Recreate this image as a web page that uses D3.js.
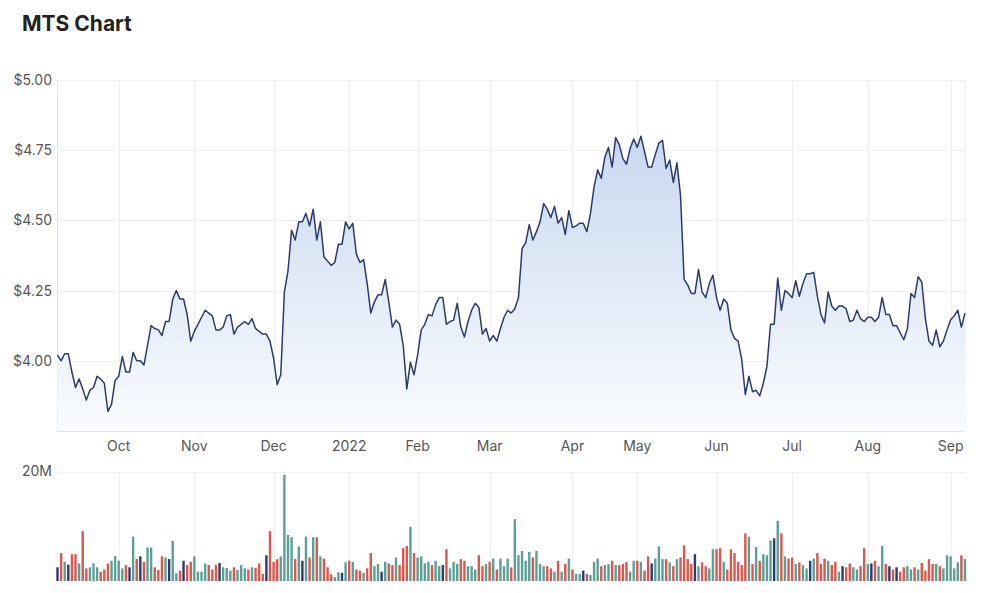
<!DOCTYPE html>
<html>
<head>
<meta charset="utf-8">
<script src="https://cdn.jsdelivr.net/npm/d3@7"></script>
<style>
  body { margin: 0; background: #fff; }
  text { font-family: Inter, "Open Sans", sans-serif; }
</style>
</head>
<body>
<div id="chart"></div>
<script>
// trading calendar (ASX) for the year shown
var firstDay = "2021-09-08";
var lastDay = "2022-09-07";
var holidays = ["2021-12-27", "2021-12-28", "2022-01-03", "2022-01-26",
                "2022-04-15", "2022-04-18", "2022-04-25", "2022-06-13"];

// closing price, $
var prices = [
  4.02, 4.00, 4.025, 4.025, 3.96, 3.905, 3.935, 3.90, 3.86, 3.895,
  3.905, 3.945, 3.935, 3.92, 3.82, 3.845, 3.93, 3.945, 4.015, 3.96,
  3.96, 4.03, 4.00, 4.00, 3.985, 4.055, 4.125, 4.115, 4.11, 4.09,
  4.14, 4.14, 4.22, 4.25, 4.22, 4.22, 4.165, 4.07, 4.105, 4.13,
  4.155, 4.18, 4.17, 4.16, 4.11, 4.11, 4.12, 4.16, 4.165, 4.095,
  4.12, 4.13, 4.14, 4.13, 4.15, 4.115, 4.105, 4.095, 4.095, 4.07,
  4.01, 3.915, 3.95, 4.245, 4.32, 4.465, 4.43, 4.495, 4.495, 4.525,
  4.48, 4.54, 4.43, 4.495, 4.37, 4.355, 4.34, 4.35, 4.415, 4.415,
  4.495, 4.47, 4.49, 4.38, 4.35, 4.36, 4.275, 4.17, 4.21, 4.235,
  4.235, 4.29, 4.21, 4.12, 4.145, 4.13, 4.055, 3.90, 3.995, 3.95,
  4.02, 4.11, 4.13, 4.165, 4.16, 4.20, 4.225, 4.225, 4.13, 4.14,
  4.145, 4.205, 4.12, 4.085, 4.14, 4.18, 4.205, 4.19, 4.095, 4.115,
  4.07, 4.09, 4.07, 4.115, 4.155, 4.18, 4.17, 4.185, 4.225, 4.40,
  4.42, 4.485, 4.43, 4.46, 4.495, 4.56, 4.54, 4.51, 4.55, 4.49,
  4.51, 4.45, 4.535, 4.475, 4.48, 4.49, 4.49, 4.46, 4.525, 4.62,
  4.68, 4.65, 4.725, 4.76, 4.69, 4.795, 4.77, 4.72, 4.70, 4.755,
  4.79, 4.76, 4.80, 4.745, 4.69, 4.69, 4.735, 4.775, 4.785, 4.685,
  4.715, 4.635, 4.705, 4.59, 4.29, 4.27, 4.24, 4.24, 4.325, 4.245,
  4.225, 4.275, 4.305, 4.225, 4.18, 4.22, 4.205, 4.11, 4.08, 4.07,
  4.005, 3.88, 3.945, 3.89, 3.895, 3.875, 3.92, 3.98, 4.13, 4.13,
  4.295, 4.18, 4.25, 4.24, 4.225, 4.285, 4.23, 4.275, 4.31, 4.31,
  4.315, 4.23, 4.165, 4.135, 4.245, 4.195, 4.18, 4.195, 4.195, 4.185,
  4.14, 4.145, 4.18, 4.15, 4.14, 4.155, 4.155, 4.14, 4.155, 4.225,
  4.165, 4.165, 4.125, 4.125, 4.10, 4.075, 4.115, 4.24, 4.225, 4.30,
  4.28, 4.15, 4.07, 4.055, 4.11, 4.05, 4.07, 4.11, 4.145, 4.16,
  4.18, 4.12, 4.17
];

// daily volume, millions of shares
var volumes = [
  2.5, 5.1, 3.5, 3.0, 4.9, 4.9, 3.2, 9.1, 2.3, 2.5,
  3.2, 2.5, 1.7, 2.1, 3.2, 3.7, 4.6, 3.7, 2.3, 2.9,
  2.5, 8.1, 4.0, 4.5, 3.5, 6.1, 6.1, 2.5, 2.0, 4.5,
  4.3, 4.0, 7.3, 1.4, 1.9, 3.7, 2.9, 3.5, 4.5, 1.7,
  1.7, 3.2, 2.9, 2.1, 3.0, 3.3, 2.5, 2.4, 1.9, 2.5,
  2.0, 2.9, 2.3, 2.1, 2.5, 2.4, 3.2, 1.3, 4.7, 9.1,
  3.5, 4.0, 4.5, 19.4, 8.4, 8.0, 4.0, 6.3, 3.7, 8.1,
  4.3, 8.0, 8.0, 4.5, 4.1, 2.5, 1.2, 0.7, 1.6, 1.5,
  3.4, 3.7, 3.5, 2.1, 1.9, 1.5, 2.3, 5.1, 2.7, 3.1,
  1.7, 3.5, 3.2, 2.9, 4.3, 2.9, 6.0, 6.4, 9.9, 5.1,
  4.3, 4.5, 3.2, 3.5, 2.9, 3.7, 2.7, 2.9, 5.8, 2.3,
  3.5, 3.1, 4.0, 3.7, 2.7, 2.7, 2.1, 4.7, 2.7, 3.1,
  3.5, 4.1, 2.1, 4.1, 2.7, 4.1, 2.5, 11.3, 4.7, 5.5,
  3.7, 5.3, 4.3, 5.5, 3.1, 2.7, 2.7, 2.3, 1.7, 3.7,
  1.7, 3.1, 4.1, 2.1, 1.3, 1.3, 1.9, 1.3, 1.1, 3.5,
  4.1, 2.7, 2.9, 3.1, 3.7, 2.9, 2.9, 3.1, 3.5, 1.7,
  3.7, 3.7, 3.5, 1.9, 4.5, 3.2, 4.1, 6.3, 4.0, 4.0,
  3.4, 2.7, 4.0, 4.3, 6.5, 4.0, 3.1, 4.9, 2.7, 3.4,
  2.7, 2.3, 5.8, 5.8, 6.0, 3.5, 2.1, 5.8, 5.1, 3.5,
  2.9, 8.7, 8.1, 3.1, 6.2, 3.7, 4.9, 4.7, 7.4, 7.8,
  11.0, 8.7, 4.5, 4.1, 4.3, 3.1, 3.4, 2.9, 2.3, 3.7,
  4.1, 5.1, 3.1, 4.1, 3.7, 2.9, 3.5, 1.7, 2.7, 2.5,
  3.2, 2.5, 2.1, 2.7, 6.0, 3.1, 3.2, 3.7, 2.7, 6.4,
  3.1, 2.7, 2.1, 2.5, 1.7, 2.5, 2.7, 2.1, 2.5, 2.1,
  3.3, 1.9, 4.0, 3.1, 3.1, 2.7, 2.3, 4.7, 4.5, 2.3,
  3.4, 4.7, 4.0
];

var priceTicks = [3.75, 4.00, 4.25, 4.50, 4.75, 5.00];
var volumeTicks = [20];

var width = 1000, height = 593;
var left = 57.5, right = 965;

var parseDay = d3.timeParse("%Y-%m-%d");
var fmtDay = d3.timeFormat("%Y-%m-%d");
var days = d3.timeDay.range(parseDay(firstDay), d3.timeDay.offset(parseDay(lastDay), 1))
  .filter(function(d) {
    return d.getDay() !== 0 && d.getDay() !== 6 && holidays.indexOf(fmtDay(d)) < 0;
  });

// first trading day of each month gets a grid line
var monthStarts = [];
days.forEach(function(d, i) {
  if (i > 0 && d.getMonth() !== days[i - 1].getMonth()) monthStarts.push(i);
});

var x = d3.scaleLinear().domain([0, prices.length - 1]).range([left, right]);
var y = d3.scaleLinear().domain([3.75, 5.00]).range([431, 80]);
var yv = d3.scaleLinear().domain([0, 20]).range([581, 471.5]);

var svg = d3.select("#chart")
  .append("svg")
  .attr("width", width)
  .attr("height", height);

svg.append("text")
  .attr("x", 22)
  .attr("y", 31)
  .attr("font-size", 21)
  .attr("font-weight", 700)
  .attr("fill", "#222")
  .text("MTS Chart");

var grad = svg.append("defs").append("linearGradient")
  .attr("id", "fill")
  .attr("gradientUnits", "userSpaceOnUse")
  .attr("x1", 0).attr("x2", 0)
  .attr("y1", y(4.80)).attr("y2", y(3.75));
grad.append("stop").attr("offset", 0).attr("stop-color", "#c8d8ef");
grad.append("stop").attr("offset", 1).attr("stop-color", "#fafcfe");

// grid
var grid = svg.append("g").attr("stroke", "#eeeeee").attr("stroke-width", 1);
grid.selectAll("line.h")
  .data(priceTicks)
  .enter()
  .append("line")
  .attr("x1", left).attr("x2", right)
  .attr("y1", function(d) { return Math.round(y(d)) + 0.5; })
  .attr("y2", function(d) { return Math.round(y(d)) + 0.5; });

grid.selectAll("line.v")
  .data(monthStarts)
  .enter()
  .append("line")
  .attr("x1", function(d) { return Math.round(x(d)) + 0.5; })
  .attr("x2", function(d) { return Math.round(x(d)) + 0.5; })
  .attr("y1", 80).attr("y2", 431);

grid.selectAll("line.vv")
  .data(monthStarts)
  .enter()
  .append("line")
  .attr("x1", function(d) { return Math.round(x(d)) + 0.5; })
  .attr("x2", function(d) { return Math.round(x(d)) + 0.5; })
  .attr("y1", yv(20)).attr("y2", yv(0));

grid.selectAll("line.vh")
  .data(volumeTicks)
  .enter()
  .append("line")
  .attr("x1", left).attr("x2", right)
  .attr("y1", function(d) { return Math.round(yv(d)) + 0.5; })
  .attr("y2", function(d) { return Math.round(yv(d)) + 0.5; });

// plot frame
svg.append("line").attr("x1", left).attr("x2", left).attr("y1", 80).attr("y2", 431).attr("stroke", "#e6e6e6");
svg.append("line").attr("x1", right).attr("x2", right).attr("y1", 80).attr("y2", 431).attr("stroke", "#eeeeee");

// price area + line
var area = d3.area()
  .x(function(d, i) { return x(i); })
  .y0(y(3.75))
  .y1(function(d) { return y(d); });

var line = d3.line()
  .x(function(d, i) { return x(i); })
  .y(function(d) { return y(d); });

svg.append("path")
  .datum(prices)
  .attr("fill", "url(#fill)")
  .attr("d", area);

svg.append("line").attr("x1", left).attr("x2", right)
  .attr("y1", 431.5).attr("y2", 431.5).attr("stroke", "#e3e3e3");

svg.append("path")
  .datum(prices)
  .attr("fill", "none")
  .attr("stroke", "#2b3b6b")
  .attr("stroke-width", 1.5)
  .attr("stroke-linejoin", "round")
  .attr("d", line);

// axis labels
svg.selectAll("text.py")
  .data(priceTicks.slice(1))
  .enter()
  .append("text")
  .attr("x", 52)
  .attr("y", function(d) { return y(d); })
  .attr("dy", "0.35em")
  .attr("text-anchor", "end")
  .attr("font-size", 14)
  .attr("fill", "#555")
  .text(function(d) { return "$" + d.toFixed(2); });

var monthName = d3.timeFormat("%b");
svg.selectAll("text.mx")
  .data(monthStarts)
  .enter()
  .append("text")
  .attr("x", function(d) { return x(d); })
  .attr("y", 451)
  .attr("text-anchor", "middle")
  .attr("font-size", 14)
  .attr("fill", "#555")
  .text(function(d) {
    var day = days[d];
    return day.getMonth() === 0 ? day.getFullYear() : monthName(day);
  });

svg.selectAll("text.vy")
  .data(volumeTicks)
  .enter()
  .append("text")
  .attr("x", 52)
  .attr("y", function(d) { return yv(d); })
  .attr("dy", "0.35em")
  .attr("text-anchor", "end")
  .attr("font-size", 14)
  .attr("fill", "#555")
  .text(function(d) { return d + "M"; });

// volume bars coloured by the day's move
function move(i) {
  if (i === 0) return 0;
  return Math.sign(Math.round(prices[i] * 1000) - Math.round(prices[i - 1] * 1000));
}
var barColor = { "1": "#5b9f96", "-1": "#d9574c", "0": "#2b3b6b" };

svg.selectAll("rect.vol")
  .data(volumes)
  .enter()
  .append("rect")
  .attr("x", function(d, i) { return x(i) - 1.2; })
  .attr("width", 2.4)
  .attr("y", function(d) { return yv(d); })
  .attr("height", function(d) { return yv(0) - yv(d); })
  .attr("fill", function(d, i) { return barColor[move(i)]; });

if (days.length !== prices.length) console.log("days", days.length, "prices", prices.length);
</script>
</body>
</html>
